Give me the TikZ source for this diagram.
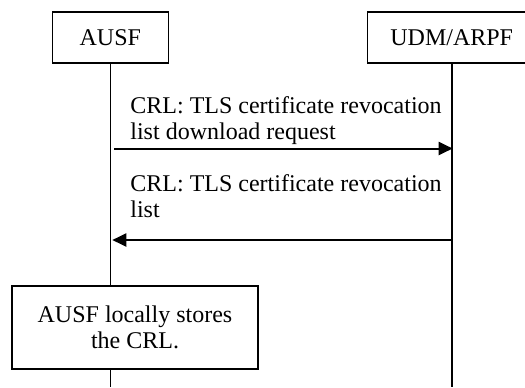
\documentclass[tikz,border=0pt]{standalone}
\usepackage{fontspec}
\setmainfont{Liberation Serif}
\usetikzlibrary{arrows.meta}
\begin{document}
\begin{tikzpicture}[x=0.5pt,y=-0.5pt,
  txt/.style={font=\fontsize{12}{13}\selectfont},
  entity/.style={txt,draw,line width=0.65pt,inner sep=0pt,minimum height=25.5pt},
  lifeline/.style={line width=0.8pt},
  msg/.style={line width=1pt,-{Triangle[length=7pt,width=6.5pt]}},
  msgtext/.style={txt,align=left,inner sep=0pt,anchor=base west},
  actbox/.style={txt,draw,fill=white,line width=0.65pt,align=center,inner sep=0pt,minimum width=123pt,minimum height=41.5pt}]
\useasboundingbox (0,0) rectangle (525,387);
% entities
\node[entity,minimum width=58pt] (ausf) at (110.3,37.5) {AUSF};
\node[entity,minimum width=84.5pt] (udm) at (451.7,37.5) {UDM/ARPF};
% lifeline ends
\coordinate (ausfend) at (110.3,387);
\coordinate (udmend) at (451.7,387);
\draw[lifeline] (ausf.south) -- (ausfend);
\draw[lifeline] (udm.south) -- (udmend);
% message 1
\node[msgtext] (t1) at (130,139) {CRL: TLS certificate revocation\\list download request};
\coordinate (m1s) at (114,148.5);
\coordinate (m1e) at (452.7,148.5);
\draw[msg] (m1s) -- (m1e);
% message 2
\node[msgtext] (t2) at (130,217) {CRL: TLS certificate revocation\\list};
\coordinate (m2s) at (452.7,240);
\coordinate (m2e) at (112.3,240);
\draw[msg] (m2s) -- (m2e);
% local action
\node[actbox] (store) at (135,327.5) {AUSF locally stores\\the CRL.};
\end{tikzpicture}
\end{document}
